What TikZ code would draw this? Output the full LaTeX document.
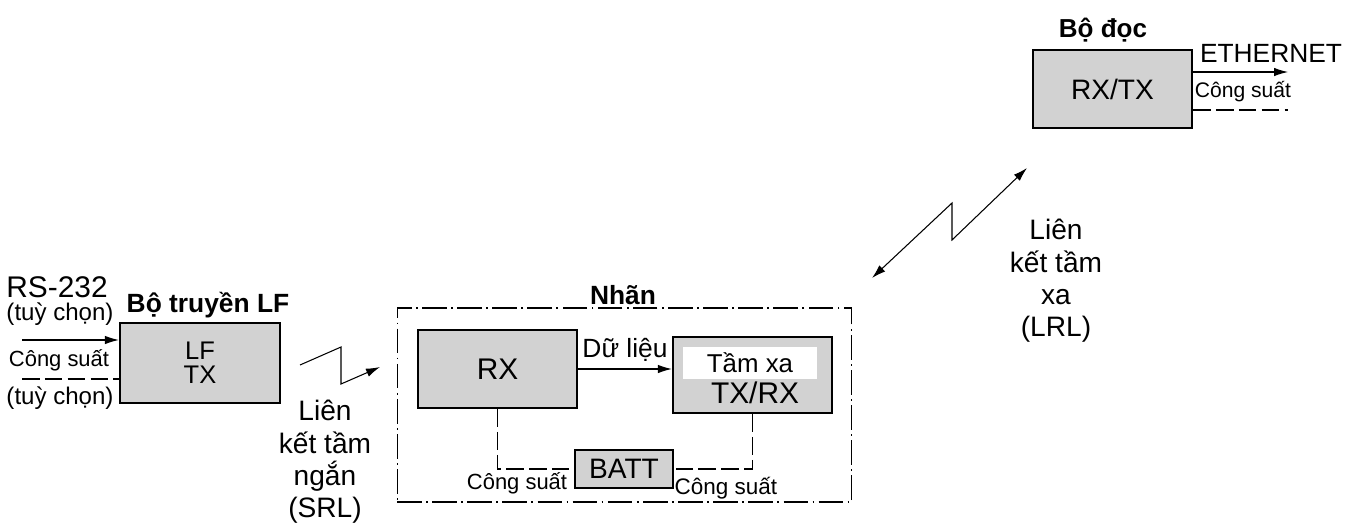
\documentclass[tikz,border=0pt]{standalone}
\usepackage{fontspec}
\setmainfont{Liberation Sans}
\usetikzlibrary{arrows.meta, positioning, calc}
\definecolor{cstip}{HTML}{D2D2D2}
\tikzset{
  every picture/.style={line width=0.6pt},
  blk/.style={draw, fill=cstip, line width=1.3pt, align=center, inner sep=0pt},
  arrow/.style={-{Latex[length=2.8mm,width=1.7mm]}},
  twoway/.style={{Latex[length=2.8mm,width=1.7mm]}-{Latex[length=2.8mm,width=1.7mm]}},
  pwr/.style={dash pattern=on 10pt off 3pt},
  tagline/.style={dash pattern=on 14pt off 2.5pt on 1pt off 2.5pt},
  head/.style={font=\fontsize{15}{17}\selectfont\bfseries},
  small/.style={font=\fontsize{12.5}{14}\selectfont},
  opt/.style={font=\fontsize{13.7}{15}\selectfont},
  link/.style={font=\fontsize{16}{18.4}\selectfont, align=center},
}

\begin{document}
\begin{tikzpicture}[x=0.02cm, y=-0.02cm]
  \useasboundingbox (0,0) rectangle (1349,528);
  % LF transmitter
  \node[blk, minimum width=3.2cm, minimum height=1.6cm, font=\fontsize{14.5}{13.8}\selectfont] (lftx) at (200,363) {LF\\TX};
  \node[head] (lfhead) at (208,305) {Bộ truyền LF};
  \node[font=\fontsize{17}{19}\selectfont] (rs) at (57,287) {RS-232};
  \node[opt] (opt1) at (60,314) {(tuỳ chọn)};
  \node[small] (lfpwr) at (59,360) {Công suất};
  \node[opt] (opt2) at (60,398) {(tuỳ chọn)};
  \coordinate (rsin) at (22,340);
  \coordinate (pwrin) at (22,379);
  \draw[arrow] (rsin) -- (lftx.west |- rsin);
  \draw[pwr] (pwrin) -- (lftx.west |- pwrin);
  % short range link
  \coordinate (s0) at (300,365);
  \coordinate (s1) at (341,347);
  \coordinate (s2) at (341,384);
  \coordinate (s3) at (380,367);
  \draw[arrow] (s0) -- (s1) -- (s2) -- (s3);
  \node[link] (srl) at (325,462) {Liên\\kết tầm\\ngắn\\(SRL)};
  % tag
  \node[draw, tagline, minimum width=9.1cm, minimum height=3.88cm] (tag) at (624.5,405) {};
  \node[head] (taghead) at (623,295) {Nhãn};
  \node[blk, minimum width=3.18cm, minimum height=1.56cm, font=\fontsize{17}{19}\selectfont] (rx) at (497.5,369) {RX};
  \node[blk, minimum width=3.18cm, minimum height=1.52cm] (trx) at (752.5,375) {};
  \node[fill=white, minimum width=2.7cm, minimum height=0.54cm, font=\fontsize{14.7}{16}\selectfont] (farlbl) at (750,363) {Tầm xa};
  \node[font=\fontsize{17}{19}\selectfont] (trxlbl) at (755,393) {TX/RX};
  \node[blk, minimum width=1.96cm, minimum height=0.76cm, font=\fontsize{16}{18}\selectfont] (batt) at (624,469) {BATT};
  \draw[arrow] (rx.east) -- (rx.east -| trx.west);
  \node[font=\fontsize{15}{17}\selectfont] (data) at (625,350) {Dữ liệu};
  \draw[pwr] (rx.south) |- (batt.west);
  \draw[pwr] (trx.south) |- (batt.east);
  \node[small] (bpwr1) at (517,483) {Công suất};
  \node[small, font=\fontsize{12.8}{14}\selectfont] (bpwr2) at (726,488) {Công suất};
  % reader
  \node[blk, minimum width=3.18cm, minimum height=1.56cm, font=\fontsize{16}{18}\selectfont] (reader) at (1112.5,89) {RX/TX};
  \node[head, font=\fontsize{14.8}{17}\selectfont\bfseries] (rdhead) at (1103,30) {Bộ đọc};
  \node[font=\fontsize{15}{17}\selectfont] (eth) at (1271,53) {ETHERNET};
  \node[font=\fontsize{12}{14}\selectfont] (rdpwr) at (1243,92) {Công suất};
  \coordinate (ethout) at (1288,72);
  \coordinate (pwrout) at (1288,110);
  \draw[arrow] (reader.east |- ethout) -- (ethout);
  \draw[pwr] (reader.east |- pwrout) -- (pwrout);
  % long range link
  \coordinate (l0) at (872,278);
  \coordinate (l1) at (952,203);
  \coordinate (l2) at (952,240);
  \coordinate (l3) at (1027,168);
  \draw[twoway] (l0) -- (l1) -- (l2) -- (l3);
  \node[link] (lrl) at (1056,281) {Liên\\kết tầm\\xa\\(LRL)};
\end{tikzpicture}
\end{document}
